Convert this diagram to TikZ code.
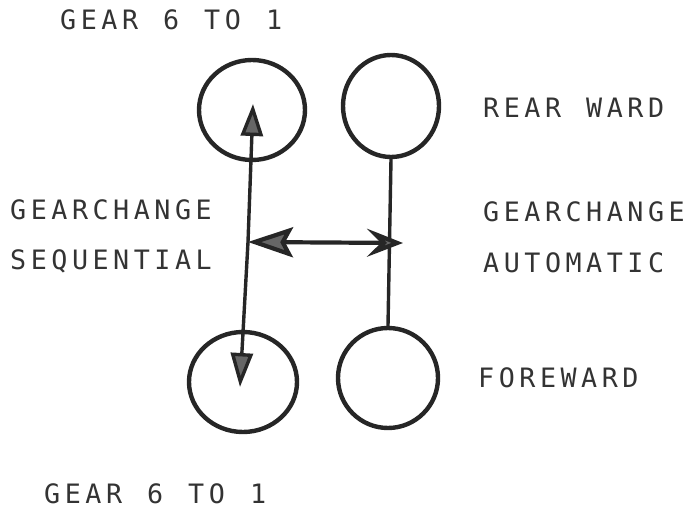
\documentclass[tikz,border=0pt]{standalone}
\usepackage{fontspec}
\newfontfamily\typefont[LetterSpace=17]{DejaVu Sans Mono}
\usetikzlibrary{arrows.meta,shapes.geometric}
\tikzset{
  gear/.style={draw=black!85, line width=4.4pt, ellipse, inner sep=0pt},
  link/.style={draw=black!85, line width=3.4pt},
  lbl/.style={anchor=base west, inner sep=0pt, font=\typefont\fontsize{26.7}{30}\selectfont, text=black!80},
}
\begin{document}
\begin{tikzpicture}[x=1pt,y=-1pt]
\useasboundingbox (0,0) rectangle (685,510);
% gear circles
\node[gear, minimum width=106pt, minimum height=100pt] (tl) at (252,110) {};
\node[gear, minimum width=96pt, minimum height=102pt] (tr) at (391,106) {};
\node[gear, minimum width=108pt, minimum height=100pt] (bl) at (243,382) {};
\node[gear, minimum width=100pt, minimum height=100pt] (br) at (388,378) {};
% connectors
\coordinate (hub) at (248,242);
\coordinate (upTip) at (253,104);
\coordinate (downTip) at (240,387);
\coordinate (rhub) at (403,243);
\draw[link, -{Triangle[length=32pt,width=22pt,fill=black!60]}] (hub) -- (upTip);
\draw[link, -{Triangle[length=34pt,width=22pt,fill=black!60]}] (hub) -- (downTip);
\draw[link] (tr.south) -- (br.north);
\draw[link, line width=4.2pt,
  {Stealth[length=45pt,width=30pt,inset=8pt,fill=black!60]}-{Stealth[length=36pt,width=28pt,inset=14pt,fill=black!60]}]
  (hub) -- (rhub);
% labels (words placed on a 20.6pt character grid)
\node[lbl] (t1a) at (60,30) {GEAR};
\node[lbl] (t1b) at (163,30) {6};
\node[lbl] (t1c) at (204,30) {TO};
\node[lbl] (t1d) at (266,30) {1};
\node[lbl] (t2) at (10,220) {GEARCHANGE};
\node[lbl] (t3) at (10,270) {SEQUENTIAL};
\node[lbl] (t4a) at (483,118) {REAR};
\node[lbl] (t4b) at (586,118) {WARD};
\node[lbl] (t5) at (483,222) {GEARCHANGE};
\node[lbl] (t6) at (483,273) {AUTOMATIC};
\node[lbl] (t7) at (478,387) {FOREWARD};
\node[lbl] (t8a) at (44,503) {GEAR};
\node[lbl] (t8b) at (147,503) {6};
\node[lbl] (t8c) at (188,503) {TO};
\node[lbl] (t8d) at (250,503) {1};
\end{tikzpicture}
\end{document}
